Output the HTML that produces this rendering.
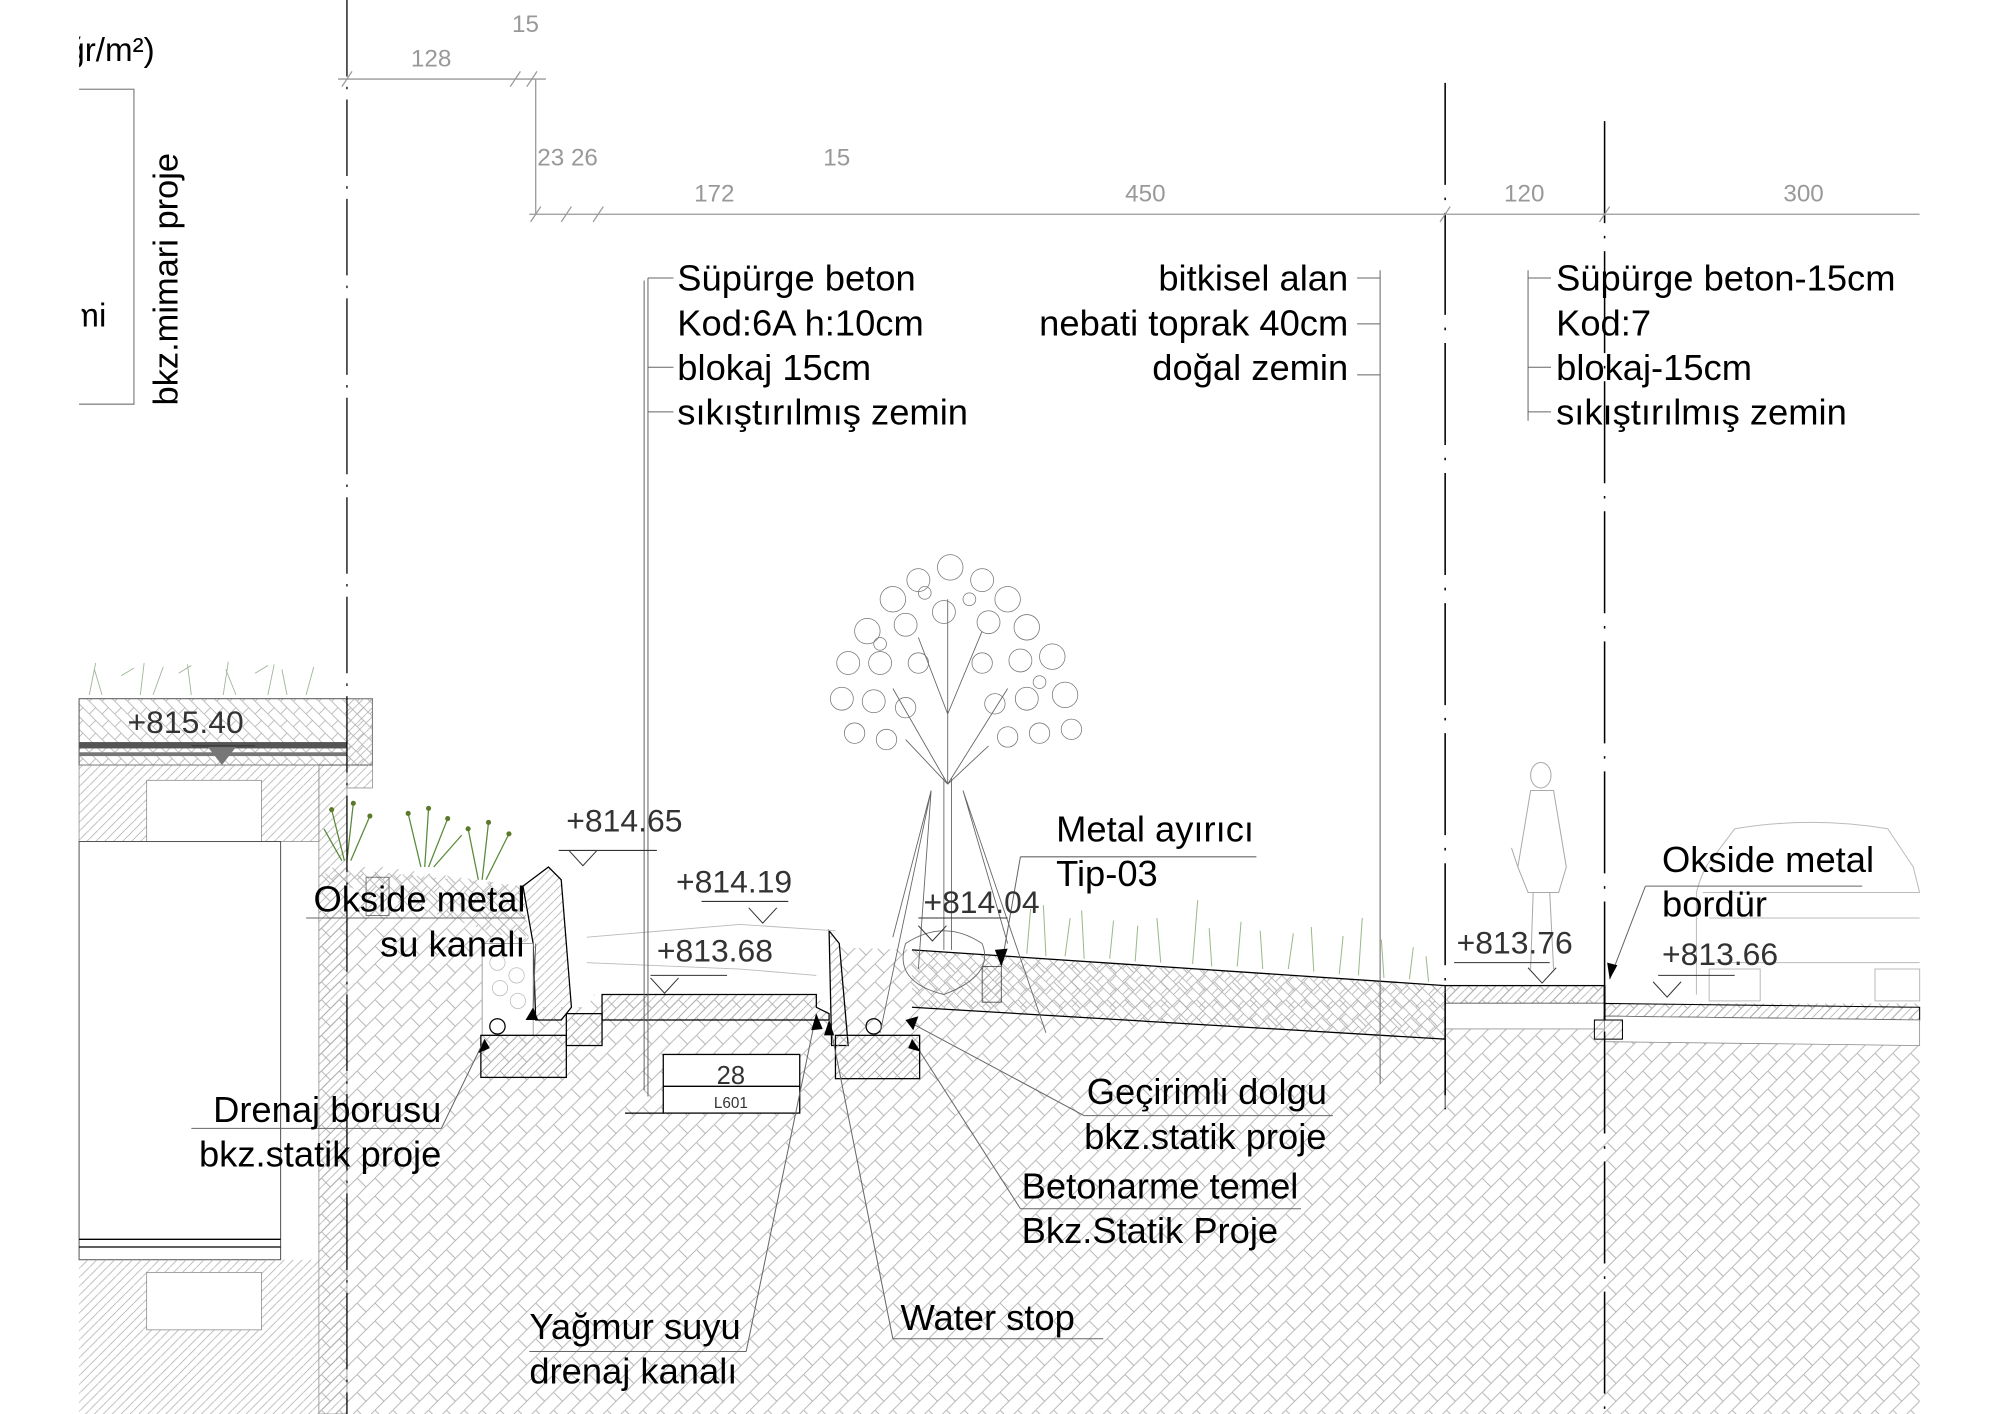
<!DOCTYPE html>
<html><head><meta charset="utf-8"><style>
html,body{margin:0;padding:0;background:#fff;width:2000px;height:1414px;overflow:hidden}
svg{display:block}
.L{font-family:"Liberation Sans",sans-serif;font-size:28.5px;fill:#000}
.E{font-family:"Liberation Sans",sans-serif;font-size:25px;fill:#333;font-weight:normal}
.D{font-family:"Liberation Sans",sans-serif;font-size:19px;fill:#999}
</style></head><body>
<svg width="2000" height="1414" viewBox="0 0 1568 1109" preserveAspectRatio="none" xmlns="http://www.w3.org/2000/svg">
<defs>
<pattern id="h" width="14" height="14" patternUnits="userSpaceOnUse">
<path d="M0 14L14 0M0 0L7 7" stroke="#b0b0b0" stroke-width="0.7" fill="none"/>
</pattern>
<pattern id="h2" width="7" height="7" patternUnits="userSpaceOnUse">
<path d="M0 7L7 0" stroke="#aaa" stroke-width="0.6"/>
</pattern>
<pattern id="h3" width="10" height="10" patternUnits="userSpaceOnUse">
<path d="M0 0L10 10M0 10L5 5" stroke="#aaa" stroke-width="0.6"/>
</pattern>
</defs>
<rect width="1568" height="1109" fill="#fff"/>

<polygon points="250,680 300,680 410,695 415,790 460,790 466,780 640,780 650,795 655,743 715,745 1133,773 1258,773 1258,787 1505,787 1505,1109 250,1109" fill="url(#h)"/>
<rect x="250" y="600" width="22" height="509" fill="url(#h2)" stroke="#888" stroke-width="0.6"/>
<polygon points="255,680 410,695 415,740 255,690" fill="url(#h3)"/>
<polygon points="715,745 1133,773 1133,815 715,790" fill="url(#h3)"/>
<line x1="715" y1="745" x2="1133" y2="773" stroke="#000" stroke-width="1"/>
<line x1="715" y1="790" x2="1133" y2="815" stroke="#000" stroke-width="1"/>
<line x1="1133" y1="815" x2="1133" y2="870" stroke="#444" stroke-width="0.8"/>

<rect x="62" y="548" width="230" height="52" fill="url(#h3)" stroke="#555" stroke-width="0.8"/>
<rect x="62" y="582" width="210" height="5" fill="#555"/>
<rect x="62" y="590" width="210" height="3" fill="#777"/>
<polygon points="163,586 185,586 174,600" fill="#777"/>
<rect x="62" y="600" width="188" height="60" fill="url(#h2)" stroke="#888" stroke-width="0.6"/>
<rect x="115" y="612" width="90" height="48" fill="#fff" stroke="#888" stroke-width="0.6"/>
<rect x="62" y="660" width="158" height="328" fill="#fff" stroke="#555" stroke-width="0.8"/>
<rect x="62" y="988" width="188" height="121" fill="url(#h2)"/>
<line x1="62" y1="972" x2="220" y2="972" stroke="#000" stroke-width="1"/>
<line x1="62" y1="978" x2="220" y2="978" stroke="#000" stroke-width="1"/>
<rect x="115" y="998" width="90" height="45" fill="#fff" stroke="#888" stroke-width="0.6"/>
<rect x="272" y="548" width="20" height="70" fill="url(#h2)" stroke="#888" stroke-width="0.6"/>
<g stroke="#9fb59a" stroke-width="0.7" fill="none">
<path d="M70 545 l5 -25 M80 545 l-6 -20 M110 545 l3 -25 M120 545 l8 -22 M150 545 l-3 -24 M175 545 l4 -26 M185 545 l-8 -20 M210 545 l5 -24 M225 545 l-4 -20 M240 545 l6 -22 M95 530 l10 -6 M140 528 l10 -6 M200 528 l10 -6"/>
</g>

<polygon points="410,695 430,680 440,690 448,790 440,800 420,800 418,740" fill="url(#h2)" stroke="#000" stroke-width="1"/>
<rect x="378" y="740" width="40" height="72" fill="#fff" stroke="#888" stroke-width="0.6"/>
<g fill="none" stroke="#bbb" stroke-width="0.6"><circle cx="390" cy="755" r="6"/><circle cx="405" cy="765" r="6"/><circle cx="392" cy="775" r="6"/><circle cx="406" cy="785" r="6"/></g>
<circle cx="390" cy="805" r="6" fill="none" stroke="#000"/>
<rect x="377" y="812" width="67" height="33" fill="url(#h2)" stroke="#000" stroke-width="1"/>
<rect x="444" y="795" width="28" height="25" fill="url(#h2)" stroke="#000" stroke-width="1"/>
<polygon points="472,780 640,780 640,790 650,795 650,800 472,800" fill="url(#h2)" stroke="#000" stroke-width="1"/>
<polygon points="650,730 658,740 665,820 652,820" fill="url(#h2)" stroke="#000" stroke-width="1"/>
<rect x="655" y="812" width="66" height="34" fill="url(#h2)" stroke="#000" stroke-width="1"/>
<circle cx="685" cy="805" r="6" fill="none" stroke="#000"/>
<path d="M460 735 L580 725 L655 730 M460 755 L580 760 L640 765" stroke="#bbb" fill="none" stroke-width="0.7"/>
<rect x="520" y="827" width="107" height="46" fill="#fff" stroke="#000" stroke-width="1"/>
<line x1="520" y1="852" x2="627" y2="852" stroke="#000"/>
<line x1="490" y1="873" x2="520" y2="873" stroke="#000"/>
<text x="573" y="850" text-anchor="middle" style="font-family:'Liberation Sans',sans-serif;font-size:20px;fill:#333">28</text>
<text x="573" y="869" text-anchor="middle" style="font-family:'Liberation Sans',sans-serif;font-size:12px;fill:#333">L601</text>

<g stroke="#5a8a3a" stroke-width="1" fill="none">
<path d="M270 675 l-10 -40 M272 675 l5 -45 M275 675 l15 -35 M330 680 l-10 -42 M333 680 l3 -46 M336 680 l15 -38 M375 690 l-8 -40 M378 690 l5 -45 M381 690 l18 -36 M268 675 l-14 -25 M340 680 l22 -25"/>
</g>
<g fill="#5a7a2a"><circle cx="260" cy="635" r="2"/><circle cx="277" cy="630" r="2"/><circle cx="290" cy="640" r="2"/><circle cx="320" cy="638" r="2"/><circle cx="336" cy="634" r="2"/><circle cx="351" cy="642" r="2"/><circle cx="367" cy="650" r="2"/><circle cx="383" cy="645" r="2"/><circle cx="399" cy="654" r="2"/></g>
<rect x="287" y="688" width="18" height="30" fill="url(#h2)" stroke="#555" stroke-width="0.6"/>

<!-- tree -->
<g fill="none" stroke="#666" stroke-width="0.7">
<path d="M740 745 L740 610 M746 745 L746 610 M743 615 L710 580 M743 615 L775 585 M743 615 L700 540 M743 615 L790 540 M743 615 L743 470 M743 560 L720 500 M743 560 L770 495"/>
<path d="M730 620 L700 735 M755 620 L790 740 M730 620 L720 760 M755 620 L820 810 M730 620 L690 810"/>
<g stroke="#777" stroke-width="0.6">
<circle cx="700" cy="470" r="10"/><circle cx="720" cy="455" r="9"/><circle cx="745" cy="445" r="10"/><circle cx="770" cy="455" r="9"/><circle cx="790" cy="470" r="10"/>
<circle cx="680" cy="495" r="10"/><circle cx="710" cy="490" r="9"/><circle cx="740" cy="480" r="9"/><circle cx="775" cy="488" r="9"/><circle cx="805" cy="492" r="10"/>
<circle cx="665" cy="520" r="9"/><circle cx="690" cy="520" r="9"/><circle cx="720" cy="520" r="8"/><circle cx="770" cy="520" r="8"/><circle cx="800" cy="518" r="9"/><circle cx="825" cy="515" r="10"/>
<circle cx="660" cy="548" r="9"/><circle cx="685" cy="550" r="9"/><circle cx="710" cy="555" r="8"/><circle cx="780" cy="552" r="8"/><circle cx="805" cy="548" r="9"/><circle cx="835" cy="545" r="10"/>
<circle cx="670" cy="575" r="8"/><circle cx="695" cy="580" r="8"/><circle cx="790" cy="578" r="8"/><circle cx="815" cy="575" r="8"/><circle cx="840" cy="572" r="8"/>
<circle cx="725" cy="465" r="5"/><circle cx="760" cy="470" r="5"/><circle cx="690" cy="505" r="5"/><circle cx="815" cy="535" r="5"/>
</g>
<path d="M710 740 q30 -20 60 0 q10 25 -30 40 q-40 -10 -30 -40z"/>
</g>
<rect x="770" y="758" width="15" height="28" fill="url(#h2)" stroke="#333" stroke-width="0.6"/>

<g stroke="#9bb98a" stroke-width="0.8" fill="none">
<path d="M805 748 l3 -35 M820 750 l-2 -40 M835 750 l4 -30 M850 752 l-2 -38 M870 752 l3 -30 M890 754 l2 -28 M910 755 l-3 -35 M935 756 l4 -50 M950 758 l-2 -30 M970 758 l3 -35 M990 760 l-2 -30 M1010 760 l4 -28 M1030 762 l-2 -35 M1050 764 l3 -30 M1065 765 l3 -45 M1085 767 l-2 -30 M1105 768 l3 -25 M1120 770 l-2 -20"/>
</g>

<rect x="1133" y="773" width="125" height="14" fill="url(#h2)" stroke="#000" stroke-width="1"/>
<rect x="1133" y="787" width="125" height="20" fill="#fff" stroke="#888" stroke-width="0.6"/>
<polygon points="1258,787 1505,790 1505,800 1258,797" fill="url(#h2)" stroke="#000" stroke-width="0.8"/>
<polygon points="1258,797 1505,800 1505,820 1258,817" fill="#fff" stroke="#888" stroke-width="0.6"/>
<rect x="1250" y="800" width="22" height="15" fill="url(#h2)" stroke="#000" stroke-width="0.8"/>
<line x1="1258" y1="773" x2="1258" y2="800" stroke="#000" stroke-width="1.5"/>
<g fill="none" stroke="#aaa" stroke-width="0.8">
<ellipse cx="1208" cy="608" rx="8" ry="10"/>
<path d="M1200 620 L1190 680 L1198 700 L1222 700 L1228 680 L1218 620 Z M1202 700 L1200 760 M1215 700 L1218 760 M1190 680 L1185 665"/>
</g>
<g fill="none" stroke="#bbb" stroke-width="0.8">
<path d="M1330 780 L1330 700 Q1335 680 1345 670 L1360 650 Q1420 640 1480 650 L1500 680 L1505 700"/>
<path d="M1335 700 L1505 700 M1340 720 L1505 720 M1345 755 L1505 755"/>
<rect x="1340" y="760" width="40" height="25"/><rect x="1470" y="760" width="35" height="25"/>
</g>

<line x1="272" y1="0" x2="272" y2="1109" stroke="#000" stroke-width="1" stroke-dasharray="60 8 2 8"/>
<line x1="1133" y1="65" x2="1133" y2="870" stroke="#000" stroke-width="1.2" stroke-dasharray="80 10 2 10"/>
<line x1="1258" y1="95" x2="1258" y2="1109" stroke="#000" stroke-width="1.2" stroke-dasharray="80 10 2 10"/>
<line x1="505" y1="220" x2="505" y2="855" stroke="#666" stroke-width="0.8"/>
<line x1="1082" y1="212" x2="1082" y2="850" stroke="#666" stroke-width="0.8"/>
<line x1="1198" y1="212" x2="1198" y2="330" stroke="#666" stroke-width="0.8"/>

<g stroke="#999" stroke-width="1" fill="none">
<path d="M265 62 L428 62 M420 62 L420 168 M415 168 L1505 168"/>
<path d="M268 68 l8 -12 M400 68 l8 -12 M413 68 l8 -12 M416 174 l8 -12 M440 174 l8 -12 M465 174 l8 -12 M1129 174 l8 -12 M1254 174 l8 -12"/>
</g>
<text x="338" y="52" text-anchor="middle" class="D">128</text>
<text x="412" y="25" text-anchor="middle" class="D">15</text>
<text x="445" y="130" text-anchor="middle" class="D">23 26</text>
<text x="560" y="158" text-anchor="middle" class="D">172</text>
<text x="656" y="130" text-anchor="middle" class="D">15</text>
<text x="898" y="158" text-anchor="middle" class="D">450</text>
<text x="1195" y="158" text-anchor="middle" class="D">120</text>
<text x="1414" y="158" text-anchor="middle" class="D">300</text>

<text x="52" y="48" class="L" style="font-size:26px">ğr/m²)</text>
<rect x="0" y="0" width="62" height="60" fill="#fff"/>
<path d="M62 70 L105 70 L105 317 L62 317" stroke="#888" fill="none"/>
<text x="56" y="256" class="L" style="font-size:26px">mi</text>
<rect x="0" y="220" width="64" height="45" fill="#fff"/>
<text x="0" y="0" class="L" transform="translate(139,318) rotate(-90)" style="font-size:27px">bkz.mimari proje</text>

<g stroke="#666" stroke-width="0.8" fill="none">
<path d="M508 218 L528 218 M508 288 L528 288 M508 323 L528 323 M508 218 L508 860"/>
<path d="M1064 218 L1082 218 M1064 254 L1082 254 M1064 294 L1082 294"/>
<path d="M1198 218 L1216 218 M1198 288 L1216 288 M1198 323 L1216 323"/>
<path d="M800 672 L985 672 M800 672 L785 758"/>
<path d="M1290 695 L1460 695 M1290 695 L1262 768"/>
<path d="M240 720 L412 720 M420 740 L418 790"/>
<path d="M346 885 L150 885 M346 885 L380 815"/>
<path d="M850 875 L1045 875 M850 875 L710 800"/>
<path d="M800 948 L1020 948 M800 948 L715 815"/>
<path d="M415 1060 L585 1060 M585 1060 L640 795"/>
<path d="M700 1050 L865 1050 M700 1050 L650 800"/>
</g>
<g fill="#000">
<polygon points="380,815 375,826 384,822"/>
<polygon points="785,758 780,745 790,744"/>
<polygon points="1262,768 1260,755 1268,757"/>
<polygon points="710,800 720,797 716,808"/>
<polygon points="715,815 722,825 712,822"/>
<polygon points="640,795 636,808 645,807"/>
<polygon points="650,800 646,812 654,812"/>
<polygon points="418,790 412,800 422,800"/>
</g>

<g stroke="#333" stroke-width="0.8" fill="none">
<path d="M438 667 L515 667 M446 667 L457 679 L468 667"/>
<path d="M550 707 L618 707 M587 712 L598 724 L609 712"/>
<path d="M510 765 L570 765 M510 767 L521 779 L532 767"/>
<path d="M720 720 L790 720 M720 726 L731 738 L742 726"/>
<path d="M1140 755 L1215 755 M1198 759 L1209 771 L1220 759"/>
<path d="M1300 765 L1360 765 M1296 770 L1307 782 L1318 770"/>
<path d="M150 585 L200 585"/>
</g>
<text x="100" y="575" class="E">+815.40</text>
<text x="444" y="652" class="E">+814.65</text>
<text x="530" y="700" class="E">+814.19</text>
<text x="515" y="754" class="E">+813.68</text>
<text x="724" y="716" class="E">+814.04</text>
<text x="1142" y="748" class="E">+813.76</text>
<text x="1303" y="757" class="E">+813.66</text>

<g class="L">
<text x="531" y="228">Süpürge beton</text>
<text x="531" y="263">Kod:6A h:10cm</text>
<text x="531" y="298">blokaj 15cm</text>
<text x="531" y="333">sıkıştırılmış zemin</text>
<text x="1057" y="228" text-anchor="end">bitkisel alan</text>
<text x="1057" y="263" text-anchor="end">nebati toprak 40cm</text>
<text x="1057" y="298" text-anchor="end">doğal zemin</text>
<text x="1220" y="228">Süpürge beton-15cm</text>
<text x="1220" y="263">Kod:7</text>
<text x="1220" y="298">blokaj-15cm</text>
<text x="1220" y="333">sıkıştırılmış zemin</text>
<text x="828" y="660">Metal ayırıcı</text>
<text x="828" y="695">Tip-03</text>
<text x="1303" y="684">Okside metal</text>
<text x="1303" y="719">bordür</text>
<text x="412" y="715" text-anchor="end">Okside metal</text>
<text x="412" y="750" text-anchor="end">su kanalı</text>
<text x="346" y="880" text-anchor="end">Drenaj borusu</text>
<text x="346" y="915" text-anchor="end">bkz.statik proje</text>
<text x="852" y="866">Geçirimli dolgu</text>
<text x="850" y="901">bkz.statik proje</text>
<text x="801" y="940">Betonarme temel</text>
<text x="801" y="975">Bkz.Statik Proje</text>
<text x="415" y="1050">Yağmur suyu</text>
<text x="415" y="1085">drenaj kanalı</text>
<text x="706" y="1043">Water stop</text>
</g>
</svg>
</body></html>
